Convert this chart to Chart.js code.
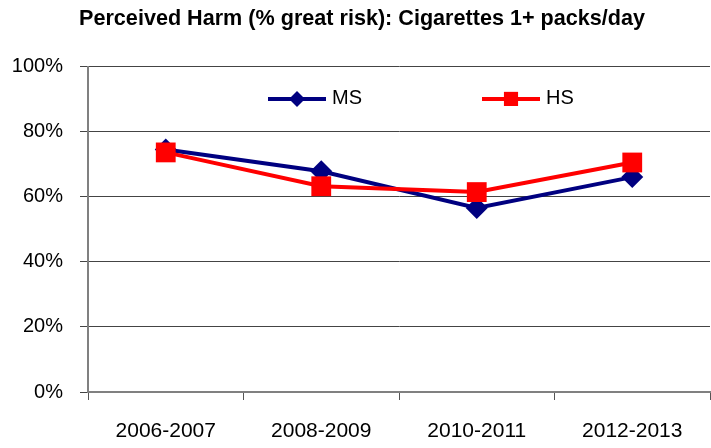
<!DOCTYPE html>
<html>
<head>
<meta charset="utf-8">
<title>Perceived Harm: Cigarettes 1+ packs/day</title>
<script src="https://cdn.jsdelivr.net/npm/chart.js@4/dist/chart.umd.min.js"></script>
<style>
  html, body { margin: 0; padding: 0; background: #fff; overflow: hidden; }
  #wrap { width: 711px; height: 448px; overflow: hidden; }
</style>
</head>
<body>
<div id="wrap"><canvas id="harmChart" width="724" height="448"></canvas></div>
<script>
// survey years and % saying "great risk"
const years = ["2006-2007", "2008-2009", "2010-2011", "2012-2013"];
const msValues = [74.6, 67.9, 56.6, 66.1];
const hsValues = [73.7, 63.3, 61.5, 70.6];
const yTicks = [0, 20, 40, 60, 80, 100];

const FONT = "'Liberation Sans', Arial, sans-serif";

// legend drawn inside the plot: line with marker, then label
const innerLegend = {
    id: "innerLegend",
    afterDraw(chart) {
        const ctx = chart.ctx;
        const area = chart.chartArea;
        const y = area.top + 32;
        const starts = [area.left + 180, area.left + 394];
        chart.data.datasets.forEach((ds, i) => {
            const x0 = starts[i];
            ctx.save();
            ctx.strokeStyle = ds.borderColor;
            ctx.lineWidth = 4;
            ctx.beginPath();
            ctx.moveTo(x0, y);
            ctx.lineTo(x0 + 58, y);
            ctx.stroke();
            ctx.fillStyle = ds.backgroundColor;
            Chart.helpers.drawPoint(ctx, {
                pointStyle: ds.pointStyle,
                rotation: 0,
                radius: ds.pointStyle === "rect" ? 10 : 8,
                borderWidth: 0
            }, x0 + 29, y);
            ctx.fillStyle = "#000";
            ctx.font = "20px " + FONT;
            ctx.textBaseline = "middle";
            ctx.fillText(ds.label, x0 + 64, y);
            ctx.restore();
        });
    }
};

new Chart(document.getElementById("harmChart"), {
    type: "line",
    data: {
        labels: years,
        datasets: [
            {
                label: "MS",
                data: msValues,
                borderColor: "#000080",
                backgroundColor: "#000080",
                borderWidth: 4,
                pointStyle: "rectRot",
                pointRadius: 11,
                pointBorderWidth: 0,
                order: 1
            },
            {
                label: "HS",
                data: hsValues,
                borderColor: "#ff0000",
                backgroundColor: "#ff0000",
                borderWidth: 4,
                pointStyle: "rect",
                pointRadius: 14,
                pointBorderWidth: 0,
                order: 0
            }
        ]
    },
    options: {
        responsive: false,
        animation: false,
        layout: { padding: 0 },
        plugins: {
            legend: { display: false },
            tooltip: { enabled: false },
            title: {
                display: true,
                text: "Perceived Harm (% great risk): Cigarettes 1+ packs/day",
                color: "#000",
                font: { family: FONT, size: 21.6, weight: "bold" },
                padding: { top: 6, bottom: 35 }
            }
        },
        scales: {
            x: {
                offset: true,
                grid: {
                    offset: true,
                    drawOnChartArea: false,
                    drawTicks: true,
                    tickLength: 8,
                    tickColor: "#555",
                    lineWidth: 1
                },
                border: { color: "#808080", width: 2 },
                ticks: {
                    color: "#000",
                    font: { family: FONT, size: 21 },
                    padding: 19,
                    maxRotation: 0
                },
                afterFit: scale => {
                    scale.height = 56;
                    scale.paddingLeft = 0;
                    scale.paddingRight = 0;
                }
            },
            y: {
                min: 0,
                max: 100,
                afterBuildTicks: scale => { scale.ticks = yTicks.map(v => ({ value: v })); },
                grid: {
                    color: "#444",
                    lineWidth: 1,
                    tickLength: 8,
                    tickColor: "#444"
                },
                border: { color: "#808080", width: 2 },
                ticks: {
                    color: "#000",
                    font: { family: FONT, size: 20 },
                    padding: 17,
                    callback: v => v + "%"
                },
                afterFit: scale => { scale.width = 88; }
            }
        }
    },
    plugins: [innerLegend]
});
</script>
</body>
</html>
